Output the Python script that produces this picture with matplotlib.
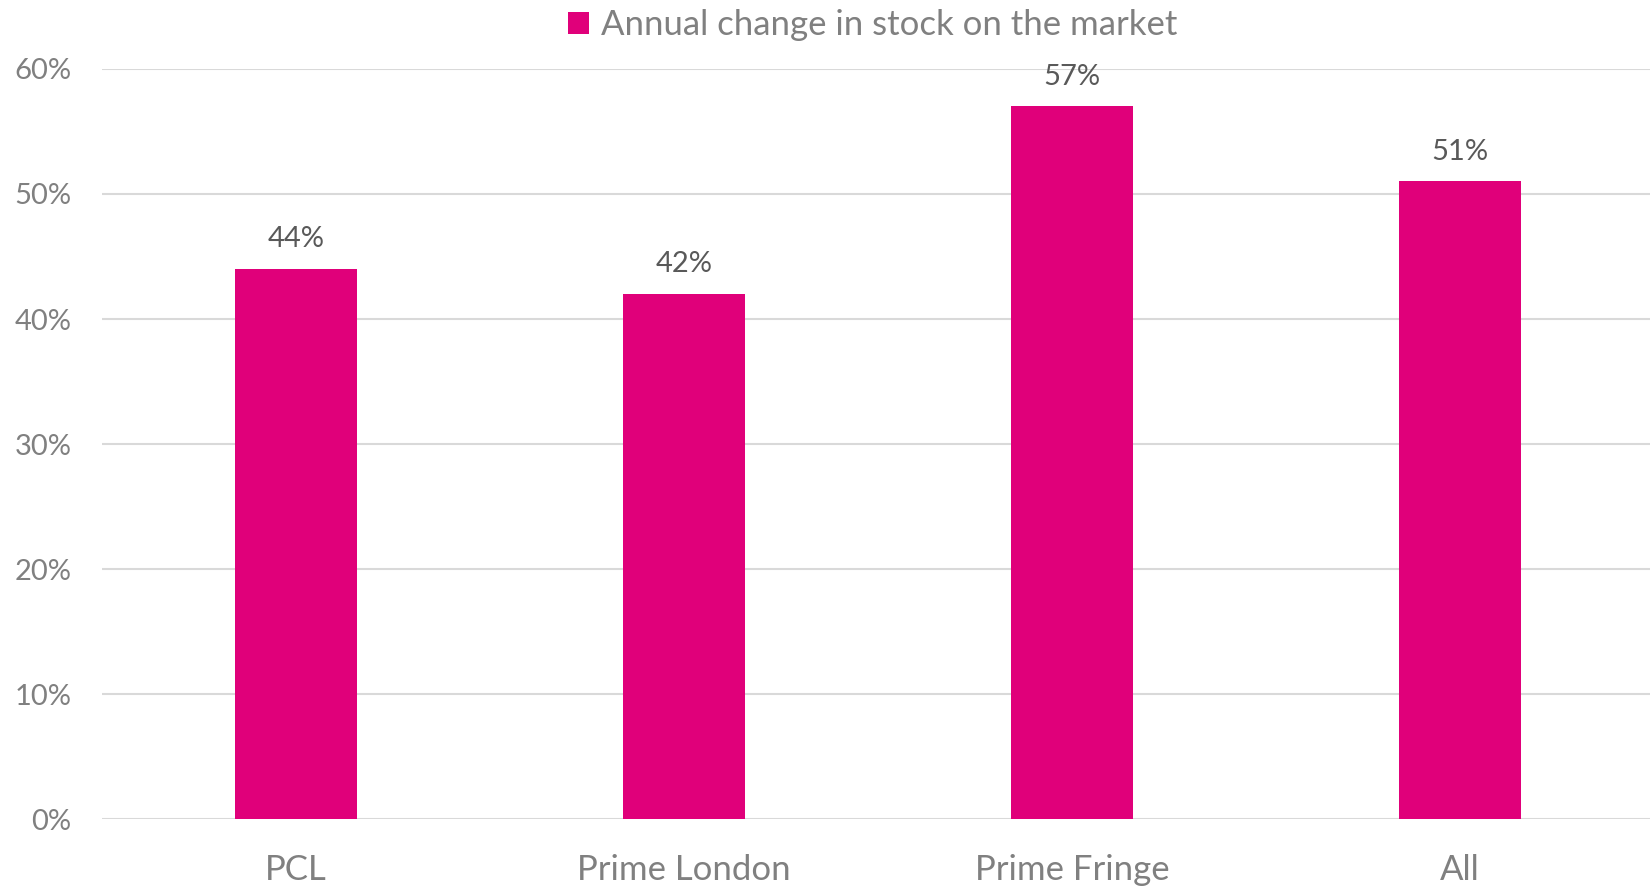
import matplotlib.pyplot as plt
from matplotlib.ticker import FuncFormatter

categories = ["PCL", "Prime London", "Prime Fringe", "All"]
values = [0.44, 0.42, 0.57, 0.51]
series_name = "Annual change in stock on the market"

plt.rcParams['font.family'] = ['Lato', 'DejaVu Sans']

fig = plt.figure(figsize=(16.5, 8.89), dpi=100)
ax = fig.add_axes([0.0618, 0.0787, 0.9382, 0.8437])

bars = ax.bar(range(len(categories)), values, width=0.315, color="#E0007A", label=series_name, zorder=2)
ax.bar_label(bars, labels=[f"{v:.0%}" for v in values], padding=12, fontsize=21, color="#595959")

ax.set_xlim(-0.5, 3.49)
ax.set_ylim(0, 0.6)
ax.set_yticks([i / 10 for i in range(7)])
ax.yaxis.set_major_formatter(FuncFormatter(lambda v, p: f"{v:.0%}"))
ax.set_xticks(range(len(categories)))
ax.set_xticklabels(categories)
ax.tick_params(axis='y', length=0, pad=22, labelsize=21, labelcolor="#808080")
ax.tick_params(axis='x', length=0, pad=25, labelsize=25, labelcolor="#808080")
ax.grid(axis='y', color="#D9D9D9", linewidth=1.5, zorder=0)
for s in ax.spines.values():
    s.set_visible(False)

fig.legend(loc='center', bbox_to_anchor=(0.529, 0.972), frameon=False, fontsize=25,
           labelcolor="#808080", handlelength=0.6, handleheight=0.6, handletextpad=0.35)

fig.savefig("out.png", dpi=100)
